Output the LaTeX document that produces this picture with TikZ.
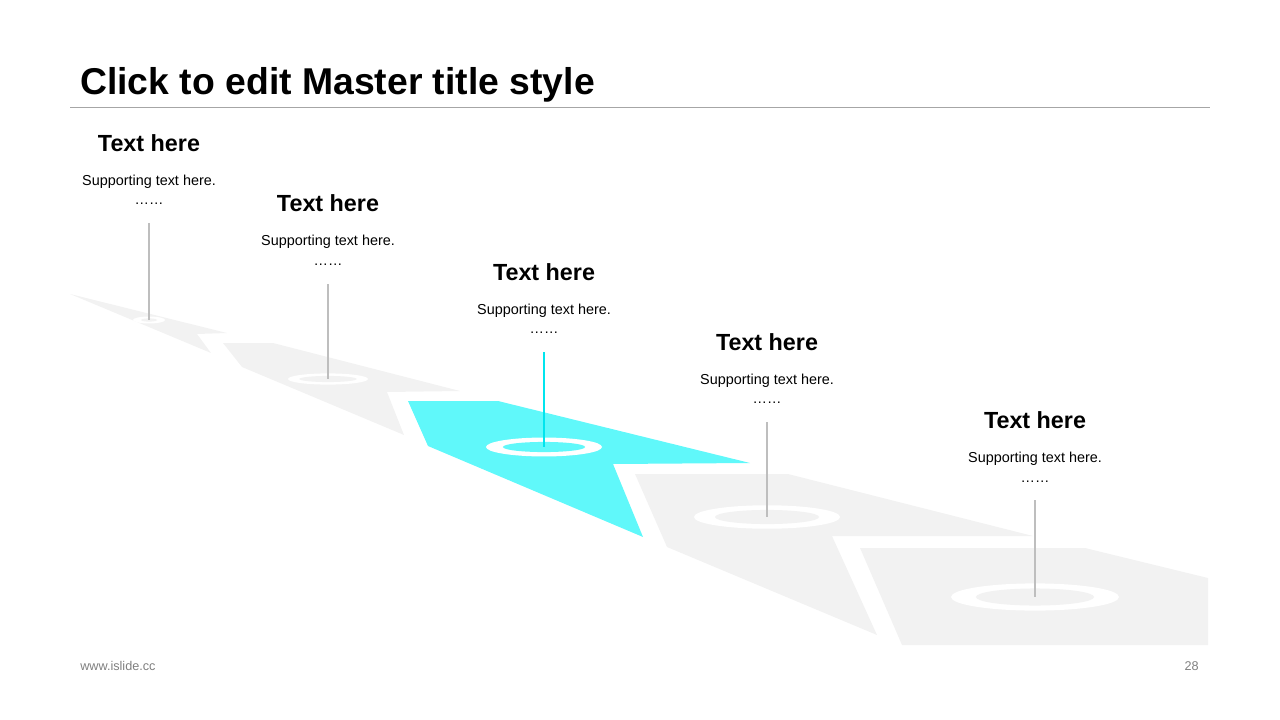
\documentclass[tikz,border=0pt]{standalone}
\usepackage{fontspec}
\setmainfont{Liberation Sans}
\usetikzlibrary{positioning}

\definecolor{pathgray}{RGB}{242,242,242}
\definecolor{pathcyan}{RGB}{96,248,250}
\definecolor{pincyan}{RGB}{0,229,238}
\definecolor{pingray}{RGB}{190,190,190}
\definecolor{rulegray}{RGB}{166,166,166}
\definecolor{footgray}{RGB}{128,128,128}

\begin{document}
\begin{tikzpicture}[x=0.75pt, y=-0.75pt,
    head/.style={font=\fontsize{17.5}{21}\selectfont\bfseries, anchor=base, inner sep=0pt},
    support/.style={font=\fontsize{10.8}{13}\selectfont, anchor=base, inner sep=0pt},
    pin/.style={pingray, line width=2.2pt},
    foot/.style={font=\fontsize{9.5}{11}\selectfont, text=footgray, anchor=base, inner sep=0pt}]
    \useasboundingbox (0,0) rectangle (1280,720);

    % title
    \node[anchor=base west, inner sep=0pt, font=\fontsize{28}{34}\selectfont\bfseries] (title) at (80,95) {Click to edit Master title style};
    \draw[rulegray, line width=0.75pt] (70,108) -- (1210,108);

    % path pieces
    \fill[pathgray] (70,294) -- (227,333) -- (197,334) -- (211,353) -- cycle;
    \fill[pathgray] (223,343) -- (273,343) -- (460,391) -- (387,392) -- (404,435) -- (242,367) -- cycle;
    \fill[pathcyan] (408,401) -- (498,401) -- (750,463) -- (613,464) -- (643,537) -- (428,446) -- cycle;
    \fill[pathgray] (635,474) -- (788,474) -- (1033,536) -- (832,536) -- (877,635) -- (667,547) -- cycle;
    \fill[pathgray] (860,548) -- (1085,548) -- (1208,578) -- (1208,645) -- (902,645) -- cycle;

    % rings
    \coordinate (c1) at (149,320);
    \coordinate (c2) at (328,379);
    \coordinate (c3) at (544,447);
    \coordinate (c4) at (767,517);
    \coordinate (c5) at (1035,597);
    \fill[white] (c1) ellipse [x radius=12pt, y radius=2.6pt];
    \fill[pathgray] (c1) ellipse [x radius=6pt, y radius=1.2pt];
    \fill[white] (c2) ellipse [x radius=30pt, y radius=4.2pt];
    \fill[pathgray] (c2) ellipse [x radius=21.4pt, y radius=2.3pt];
    \fill[white] (c3) ellipse [x radius=43.5pt, y radius=7.1pt];
    \fill[pathcyan] (c3) ellipse [x radius=30.8pt, y radius=3.8pt];
    \fill[white] (c4) ellipse [x radius=54.8pt, y radius=8.8pt];
    \fill[pathgray] (c4) ellipse [x radius=39pt, y radius=5.3pt];
    \fill[white] (c5) ellipse [x radius=63pt, y radius=10.2pt];
    \fill[pathgray] (c5) ellipse [x radius=44.3pt, y radius=6.4pt];

    % text blocks
    \node[head] (t1) at (149,151.5) {Text here};
    \node[support] (s1) at (149,185.5) {Supporting text here.};
    \node[support] (d1) at (149,205) {……};
    \coordinate (p1) at (149,223);

    \node[head] (t2) at (328,212) {Text here};
    \node[support] (s2) at (328,246) {Supporting text here.};
    \node[support] (d2) at (328,265.5) {……};
    \coordinate (p2) at (328,284);

    \node[head] (t3) at (544,280) {Text here};
    \node[support] (s3) at (544,314) {Supporting text here.};
    \node[support] (d3) at (544,333.5) {……};
    \coordinate (p3) at (544,352);

    \node[head] (t4) at (767,350) {Text here};
    \node[support] (s4) at (767,384) {Supporting text here.};
    \node[support] (d4) at (767,403.5) {……};
    \coordinate (p4) at (767,422);

    \node[head] (t5) at (1035,428.5) {Text here};
    \node[support] (s5) at (1035,462.5) {Supporting text here.};
    \node[support] (d5) at (1035,482) {……};
    \coordinate (p5) at (1035,500);

    % pins
    \draw[pin] (p1) -- (c1);
    \draw[pin] (p2) -- (c2);
    \draw[pin, pincyan] (p3) -- (c3);
    \draw[pin] (p4) -- (c4);
    \draw[pin] (p5) -- (c5);

    % footer
    \node[foot, anchor=base west] (site) at (80,670) {www.islide.cc};
    \node[foot, anchor=base east] (page) at (1199,670) {28};
\end{tikzpicture}
\end{document}
